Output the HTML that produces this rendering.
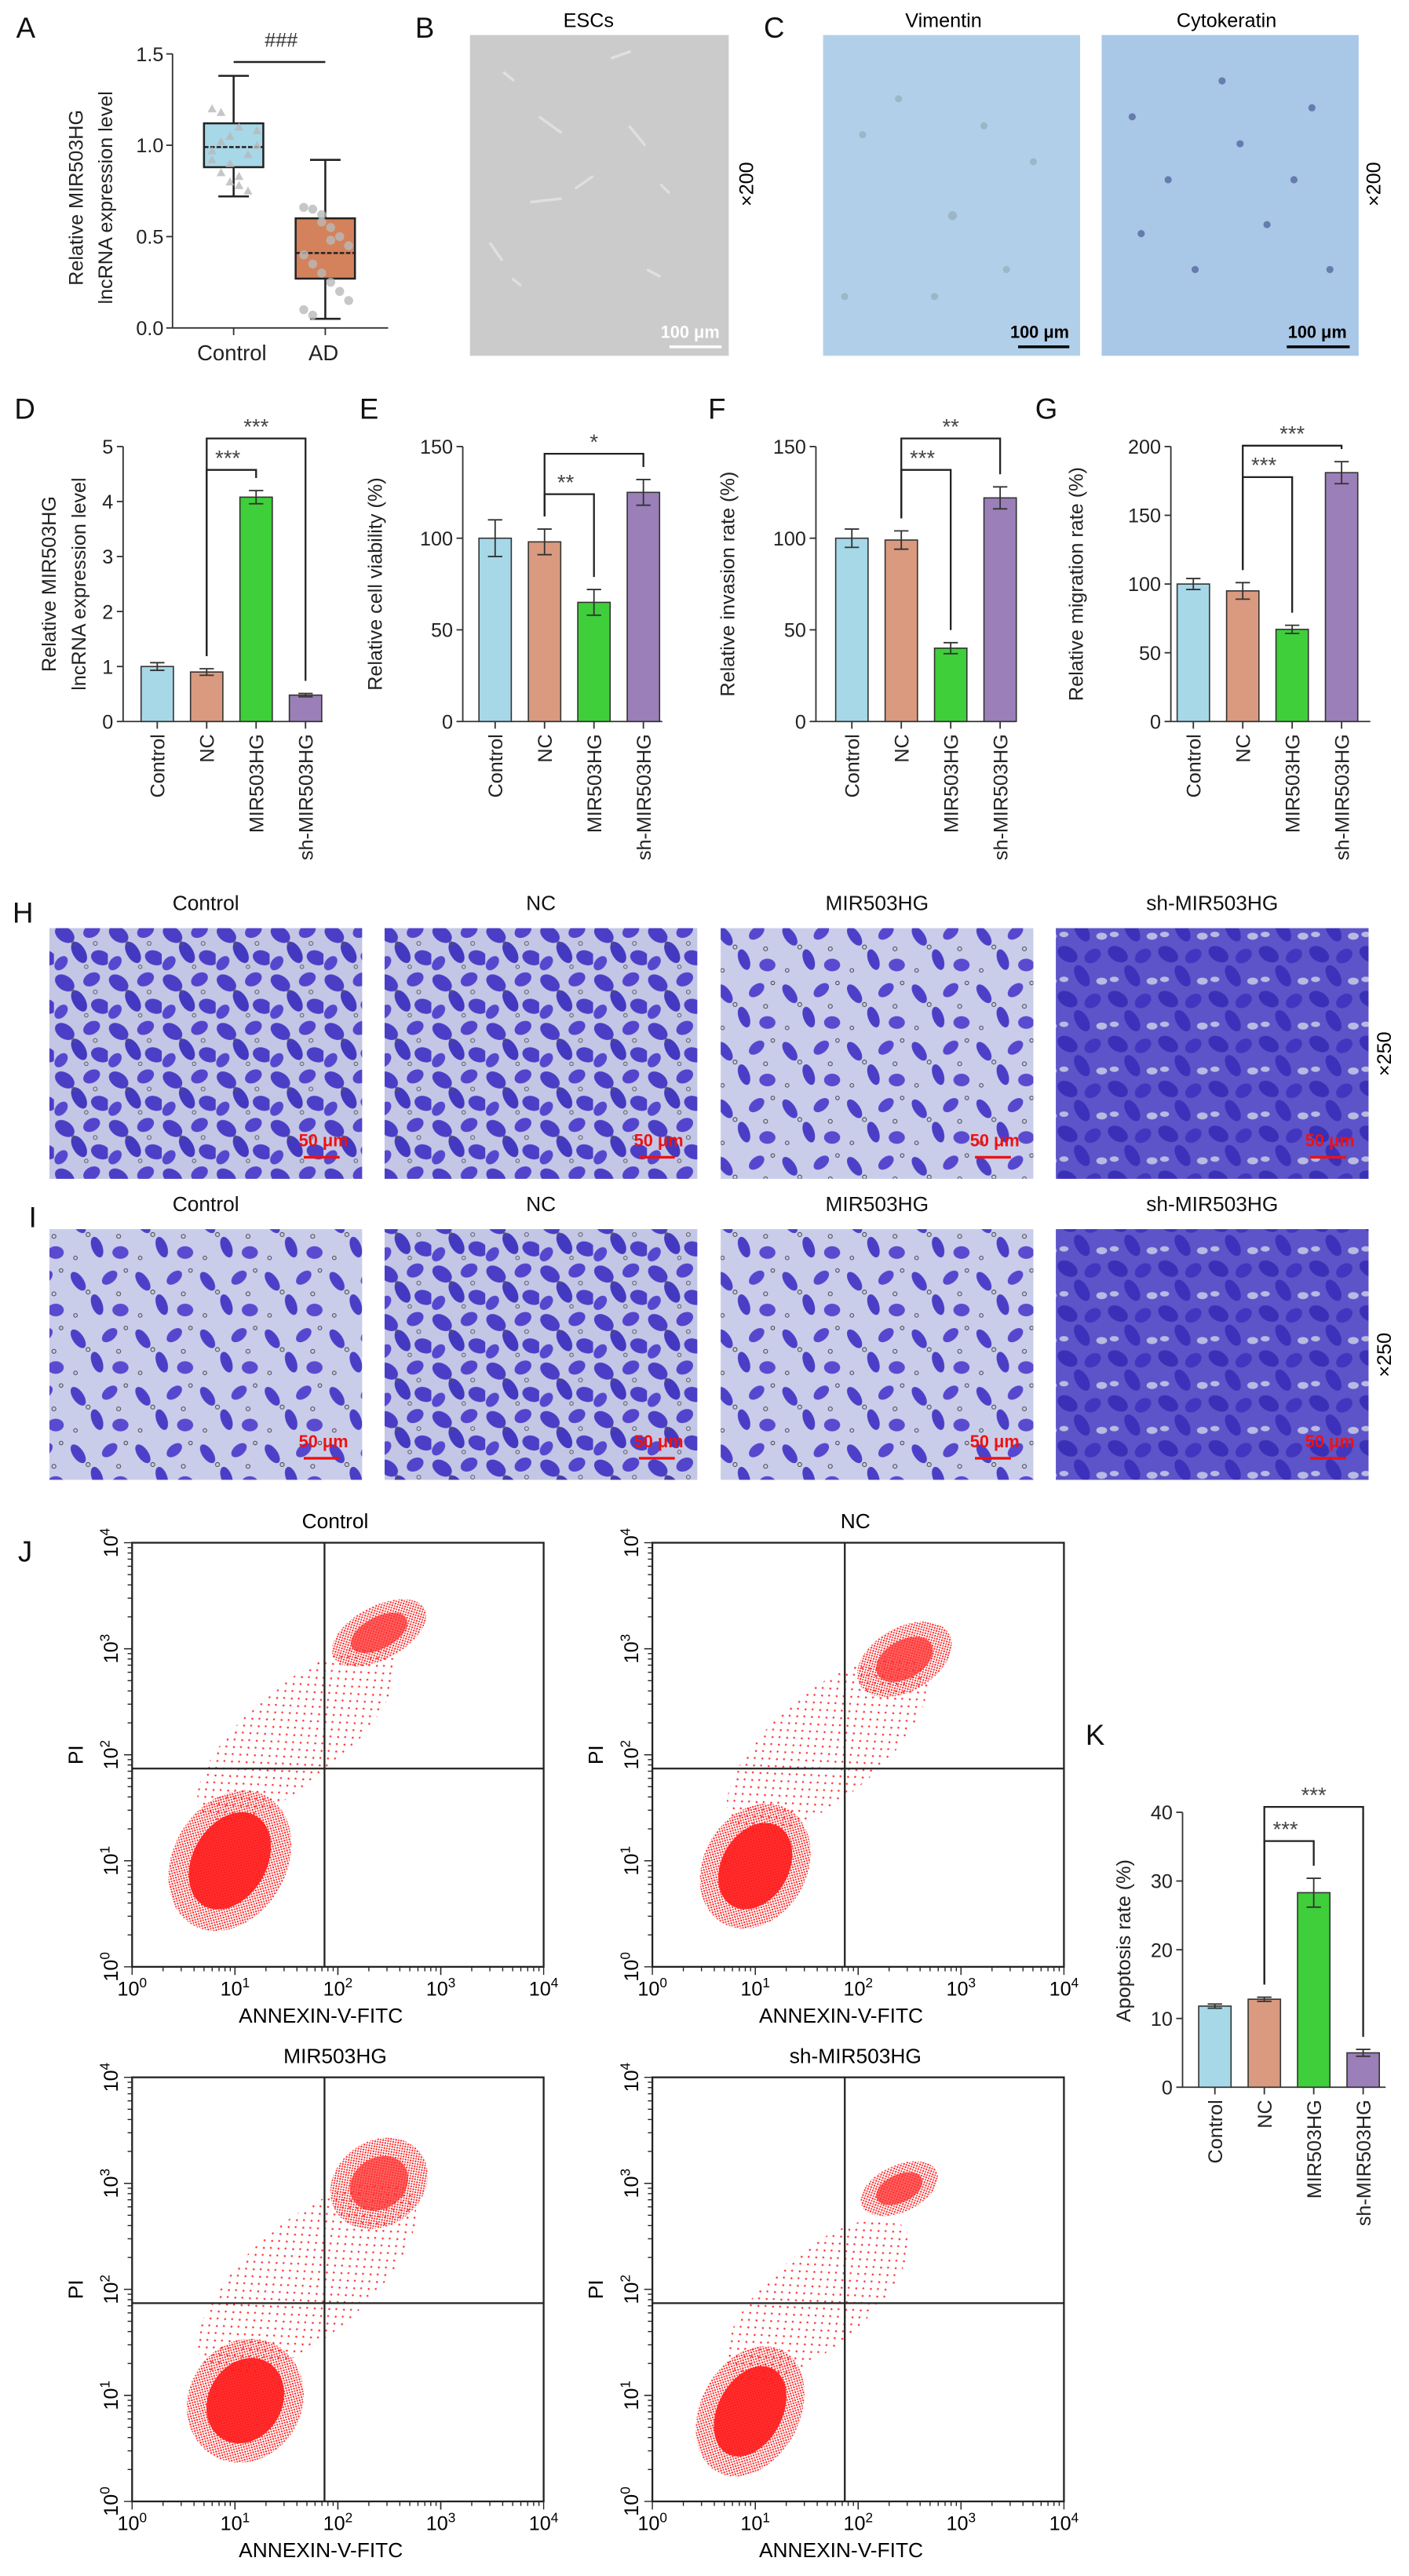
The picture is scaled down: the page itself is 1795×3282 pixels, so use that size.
<!DOCTYPE html>
<html><head><meta charset="utf-8"><style>
html,body{margin:0;padding:0;background:#fff}
svg{display:block;font-family:"Liberation Sans",Arial,sans-serif}
</style></head><body>
<svg id="fig" width="1795" height="3282" viewBox="0 0 1568 2867" xmlns="http://www.w3.org/2000/svg">
<defs>
<pattern id="cellsA" width="60" height="54" patternUnits="userSpaceOnUse">
<rect width="60" height="54" fill="#c4c6e6"/>
<ellipse cx="12" cy="14" rx="12" ry="8" transform="rotate(35 12 14)" fill="#4a3ec6"/>
<ellipse cx="42" cy="10" rx="10" ry="7" transform="rotate(-30 42 10)" fill="#5244cc"/>
<ellipse cx="28" cy="34" rx="13" ry="7" transform="rotate(60 28 34)" fill="#4338c0"/>
<ellipse cx="52" cy="40" rx="11" ry="8" transform="rotate(20 52 40)" fill="#4b3fc8"/>
<ellipse cx="8" cy="46" rx="9" ry="6" transform="rotate(-50 8 46)" fill="#5548cf"/>
<circle cx="46" cy="24" r="2.2" fill="none" stroke="#555" stroke-width="0.8"/>
<circle cx="22" cy="24" r="2" fill="none" stroke="#555" stroke-width="0.8"/>
<circle cx="36" cy="50" r="2" fill="none" stroke="#555" stroke-width="0.8"/>
</pattern>
<pattern id="cellsB" width="72" height="64" patternUnits="userSpaceOnUse">
<rect width="72" height="64" fill="#cacdea"/>
<ellipse cx="15" cy="18" rx="12" ry="6" transform="rotate(55 15 18)" fill="#4d40c8"/>
<ellipse cx="50" cy="14" rx="10" ry="6" transform="rotate(-40 50 14)" fill="#5647cf"/>
<ellipse cx="36" cy="44" rx="12" ry="6" transform="rotate(70 36 44)" fill="#4a3ec6"/>
<ellipse cx="62" cy="50" rx="9" ry="7" fill="#5a4ad0"/>
<circle cx="26" cy="30" r="2.2" fill="none" stroke="#444" stroke-width="0.9"/>
<circle cx="60" cy="32" r="2.2" fill="none" stroke="#444" stroke-width="0.9"/>
<circle cx="12" cy="56" r="2" fill="none" stroke="#444" stroke-width="0.9"/>
<circle cx="68" cy="6" r="2" fill="none" stroke="#444" stroke-width="0.9"/>
</pattern>
<pattern id="cellsD" width="56" height="50" patternUnits="userSpaceOnUse">
<rect width="56" height="50" fill="#5c54c8"/>
<ellipse cx="12" cy="12" rx="12" ry="8" transform="rotate(30 12 12)" fill="#3a30b8"/>
<ellipse cx="40" cy="14" rx="10" ry="7" transform="rotate(-35 40 14)" fill="#4236c0"/>
<ellipse cx="28" cy="36" rx="13" ry="7" transform="rotate(60 28 36)" fill="#3b31ba"/>
<ellipse cx="50" cy="42" rx="6" ry="4" fill="#b8bae2"/>
<ellipse cx="8" cy="40" rx="5" ry="3" fill="#b8bae2"/>
</pattern>
<pattern id="dots" width="4" height="4" patternUnits="userSpaceOnUse">
<circle cx="1.2" cy="1.2" r="1.0" fill="#ff1a1a"/><circle cx="3.2" cy="3.2" r="0.9" fill="#ff2a2a"/>
</pattern>
<pattern id="sparse" width="12" height="11" patternUnits="userSpaceOnUse">
<circle cx="3" cy="4" r="1.1" fill="#ff2020"/><circle cx="9" cy="9" r="1.1" fill="#ff2020"/>
</pattern>
</defs>

<g font-size="32" fill="#111">
<text x="18" y="42">A</text>
<text x="462" y="42">B</text>
<text x="850" y="42">C</text>
<text x="16" y="466">D</text>
<text x="400" y="466">E</text>
<text x="788" y="466">F</text>
<text x="1152" y="466">G</text>
<text x="14" y="1027">H</text>
<text x="32" y="1366">I</text>
<text x="20" y="1738">J</text>
<text x="1208" y="1942">K</text>
</g>

<g>
<text x="655" y="30" font-size="22" text-anchor="middle">ESCs</text>
<rect x="523" y="39" width="288" height="357" fill="#cbcbcb"/>
<g stroke="#e2e2e2" stroke-width="3" fill="none" opacity="0.9">
<path d="M600 130 l25 18"/><path d="M640 210 l20 -14"/><path d="M590 225 l35 -4"/><path d="M700 140 l18 22"/><path d="M735 205 l10 10"/><path d="M560 80 l12 10"/><path d="M680 65 l22 -8"/><path d="M545 270 l14 20"/><path d="M720 300 l15 8"/><path d="M570 310 l10 8"/></g>
<text x="768" y="376" font-size="19" fill="#fff" text-anchor="middle" font-weight="bold">100 μm</text>
<line x1="745" y1="386" x2="803" y2="386" stroke="#fff" stroke-width="3"/>
<text transform="translate(838 205) rotate(-90)" font-size="22" text-anchor="middle">×200</text>
</g>

<g>
<text x="1050" y="30" font-size="22" text-anchor="middle">Vimentin</text>
<text x="1365" y="30" font-size="22" text-anchor="middle">Cytokeratin</text>
<rect x="916" y="39" width="286" height="357" fill="#b2cfea"/>
<rect x="1226" y="39" width="286" height="357" fill="#a9c7e7"/>
<g fill="#8ea6b0" opacity="0.6">
<circle cx="960" cy="150" r="4"/><circle cx="1000" cy="110" r="4"/><circle cx="1060" cy="240" r="5"/><circle cx="1120" cy="300" r="4"/><circle cx="1150" cy="180" r="4"/><circle cx="940" cy="330" r="4"/><circle cx="1040" cy="330" r="4"/><circle cx="1095" cy="140" r="4"/></g>
<g fill="#566a9e" opacity="0.8">
<circle cx="1260" cy="130" r="4"/><circle cx="1300" cy="200" r="4"/><circle cx="1380" cy="160" r="4"/><circle cx="1410" cy="250" r="4"/><circle cx="1330" cy="300" r="4"/><circle cx="1460" cy="120" r="4"/><circle cx="1270" cy="260" r="4"/><circle cx="1480" cy="300" r="4"/><circle cx="1360" cy="90" r="4"/><circle cx="1440" cy="200" r="4"/></g>
<text x="1157" y="376" font-size="19" font-weight="bold" text-anchor="middle">100 μm</text>
<line x1="1133" y1="386" x2="1190" y2="386" stroke="#000" stroke-width="3"/>
<text x="1466" y="376" font-size="19" font-weight="bold" text-anchor="middle">100 μm</text>
<line x1="1432" y1="386" x2="1502" y2="386" stroke="#000" stroke-width="3"/>
<text transform="translate(1536 205) rotate(-90)" font-size="22" text-anchor="middle">×200</text>
</g>

<g id="charts"></g>
<g id="micro"></g>
<g id="flow"></g>
</svg>
<script>
const NS='http://www.w3.org/2000/svg';
function mk(parent,tag,attrs,txt){const e=document.createElementNS(NS,tag);for(const k in attrs)e.setAttribute(k,attrs[k]);if(txt!==undefined)e.textContent=txt;parent.appendChild(e);return e;}

const groups=['Control','NC','MIR503HG','sh-MIR503HG'];
const barColors=['#a6d8e8','#d99a80','#3ecf3a','#9b7fb8'];
const dValues=[1.0,0.9,4.08,0.48];
const dErrors=[0.07,0.06,0.12,0.03];
const eValues=[100,98,65,125];
const eErrors=[10,7,7,7];
const fValues=[100,99,40,122];
const fErrors=[5,5,3,6];
const gValues=[100,95,67,181];
const gErrors=[4,6,3,8];
const kValues=[11.8,12.8,28.3,5.0];
const kErrors=[0.3,0.3,2.1,0.5];
const dTicks=[0,1,2,3,4,5];
const eTicks=[0,50,100,150];
const fTicks=[0,50,100,150];
const gTicks=[0,50,100,150,200];
const kTicks=[0,10,20,30,40];
const dSig=['***','***'];
const eSig=['**','*'];
const fSig=['***','**'];
const gSig=['***','***'];
const kSig=['***','***'];
const boxGroups=['Control','AD'];
const boxStats=[[0.72,0.88,0.99,1.12,1.38],[0.05,0.27,0.41,0.60,0.92]];
const boxColors=['#a6d8e8','#d4825c'];
const boxTicks=[0,0.5,1.0,1.5];
const ctrlPoints=[1.2,1.18,1.05,1.1,0.95,1.0,0.92,0.85,0.8,0.78,0.75,1.08,0.97,1.02,0.9,0.83];
const adPoints=[0.66,0.65,0.62,0.55,0.5,0.45,0.4,0.35,0.3,0.25,0.2,0.15,0.1,0.07,0.58,0.48];

const charts=document.getElementById('charts');

function barChart(o){
  const g=mk(charts,'g',{});
  
  
  const y=v=>o.zeroY-(v/o.max)*(o.zeroY-o.topY);
  const xc=i=>o.axisX+o.first+i*55;
  mk(g,'line',{x1:o.axisX,y1:o.topY,x2:o.axisX,y2:o.zeroY,stroke:'#333','stroke-width':1.6});
  mk(g,'line',{x1:o.axisX,y1:o.zeroY,x2:o.axisX+o.len,y2:o.zeroY,stroke:'#333','stroke-width':1.6});
  o.ticks.forEach(t=>{
    mk(g,'line',{x1:o.axisX-7,y1:y(t),x2:o.axisX,y2:y(t),stroke:'#333','stroke-width':1.6});
    const tl=mk(g,'text',{x:o.axisX-11,y:y(t)+8,'font-size':22,'text-anchor':'end',fill:'#222'},String(t));
    
    
  });
  o.values.forEach((v,i)=>{
    const b=mk(g,'rect',{x:xc(i)-18,y:y(v),width:36,height:o.zeroY-y(v),fill:barColors[i],stroke:'#333','stroke-width':1.4});
    
    
    const e=o.errors[i];
    mk(g,'path',{d:`M${xc(i)} ${y(v+e)}V${y(v-e)}M${xc(i)-8} ${y(v+e)}H${xc(i)+8}M${xc(i)-8} ${y(v-e)}H${xc(i)+8}`,stroke:'#333','stroke-width':1.6,fill:'none'});
    mk(g,'line',{x1:xc(i),y1:o.zeroY,x2:xc(i),y2:o.zeroY+8,stroke:'#333','stroke-width':1.6});
    const xl=mk(g,'text',{transform:`translate(${xc(i)+8} ${o.zeroY+14}) rotate(-90)`,'font-size':22,'text-anchor':'end',fill:'#222'},groups[i]);
    
    
  });
  const nc=xc(1), ncTop=y(o.values[1]+o.errors[1])-14;
  [[2,o.b1],[3,o.b2]].forEach((p,k)=>{
    const t=p[0], by=p[1];
    const tTop=y(o.values[t]+o.errors[t])-14;
    mk(g,'path',{d:`M${nc} ${ncTop}V${by}H${xc(t)}V${tTop}`,stroke:'#222','stroke-width':2,fill:'none'});
    const s=mk(g,'text',{x:(nc+xc(t))/2+(k===0?-4:0),y:by-5,'font-size':24,'text-anchor':'middle',fill:'#444'},o.sig[k]);
    
    
  });
  const yt=mk(g,'text',{'font-size':22,'text-anchor':'middle',fill:'#222'});
  
  
  yt.setAttribute('transform',`translate(${o.titleX} ${o.titleY}) rotate(-90)`);
  o.title.forEach((line,i)=>{mk(yt,'tspan',{x:0,dy:i?33:0},line);});
}
barChart({name:'chart-d-expression',axisX:137,first:38,len:222,topY:497,zeroY:803,max:5,ticks:dTicks,values:dValues,errors:dErrors,b1:523,b2:488,sig:dSig,title:['Relative MIR503HG','lncRNA expression level'],titleX:62,titleY:650});
barChart({name:'chart-e-viability',axisX:515,first:36,len:222,topY:497,zeroY:803,max:150,ticks:eTicks,values:eValues,errors:eErrors,b1:550,b2:505,sig:eSig,title:['Relative cell viability (%)'],titleX:425,titleY:650});
barChart({name:'chart-f-invasion',axisX:908,first:40,len:222,topY:497,zeroY:803,max:150,ticks:fTicks,values:fValues,errors:fErrors,b1:523,b2:488,sig:fSig,title:['Relative invasion rate (%)'],titleX:817,titleY:650});
barChart({name:'chart-g-migration',axisX:1303,first:25,len:222,topY:497,zeroY:803,max:200,ticks:gTicks,values:gValues,errors:gErrors,b1:531,b2:496,sig:gSig,title:['Relative migration rate (%)'],titleX:1205,titleY:650});
barChart({name:'chart-k-apoptosis',axisX:1316,first:36,len:226,topY:2017,zeroY:2323,max:40,ticks:kTicks,values:kValues,errors:kErrors,b1:2049,b2:2011,sig:kSig,title:['Apoptosis rate (%)'],titleX:1258,titleY:2160});

(function(){
  const g=mk(charts,'g',{});
  
  
  const ax=192, top=60, zero=365, max=1.5;
  const y=v=>zero-(v/max)*(zero-top);
  const xc=[260,362];
  mk(g,'line',{x1:ax,y1:top,x2:ax,y2:zero,stroke:'#333','stroke-width':1.6});
  mk(g,'line',{x1:ax,y1:zero,x2:432,y2:zero,stroke:'#333','stroke-width':1.6});
  boxTicks.forEach(t=>{
    mk(g,'line',{x1:ax-7,y1:y(t),x2:ax,y2:y(t),stroke:'#333','stroke-width':1.6});
    const tl=mk(g,'text',{x:ax-10,y:y(t)+8,'font-size':22,'text-anchor':'end',fill:'#222'},t.toFixed(1));
    
    
  });
  boxStats.forEach((s,i)=>{
    const c=xc[i];
    mk(g,'path',{d:`M${c-17} ${y(s[0])}H${c+17}M${c} ${y(s[0])}V${y(s[1])}M${c} ${y(s[3])}V${y(s[4])}M${c-17} ${y(s[4])}H${c+17}`,stroke:'#222','stroke-width':2.2,fill:'none'});
    const b=mk(g,'rect',{x:c-33,y:y(s[3]),width:66,height:y(s[1])-y(s[3]),fill:boxColors[i],stroke:'#222','stroke-width':2.2});
    
    
    mk(g,'line',{x1:c-33,y1:y(s[2]),x2:c+33,y2:y(s[2]),stroke:'#222','stroke-width':2.2,'stroke-dasharray':'5 2'});
    mk(g,'line',{x1:c,y1:zero,x2:c,y2:zero+8,stroke:'#333','stroke-width':1.6});
    const xl=mk(g,'text',{x:c-2,y:zero+36,'font-size':24,'text-anchor':'middle',fill:'#222'},boxGroups[i]);
    
    
  });
  ctrlPoints.forEach((v,i)=>{
    const px=xc[0]-24+(i%6)*10;
    const p=mk(g,'path',{d:`M${px} ${y(v)-5}l5 9h-10z`,fill:'#b9b9b9',opacity:0.8});
    
    
  });
  adPoints.forEach((v,i)=>{
    const p=mk(g,'circle',{cx:xc[1]-24+(i%6)*10,cy:y(v),r:5,fill:'#b9b9b9',opacity:0.8});
    
    
  });
  mk(g,'line',{x1:260,y1:69,x2:362,y2:69,stroke:'#222','stroke-width':2.2});
  const h=mk(g,'text',{x:313,y:52,'font-size':22,'text-anchor':'middle',fill:'#333'},'###');
  
  
  const yt=mk(g,'text',{'font-size':22,'text-anchor':'middle',fill:'#222',transform:'translate(92 220) rotate(-90)'});
  
  
  mk(yt,'tspan',{x:0,dy:0},'Relative MIR503HG');
  mk(yt,'tspan',{x:0,dy:33},'lncRNA expression level');
})();

(function(){
  const m=document.getElementById('micro');
  const xs=[55,428,802,1175];
  const pats=[['cellsA','cellsA','cellsB','cellsD'],['cellsB','cellsA','cellsB','cellsD']];
  [[1033,'h'],[1368,'i']].forEach((row,r)=>{
    groups.forEach((gname,i)=>{
      const t=mk(m,'text',{x:xs[i]+174,y:row[0]-20,'font-size':23,'text-anchor':'middle',fill:'#111'},gname);
      
      
      const im=mk(m,'rect',{x:xs[i],y:row[0],width:348,height:279,fill:`url(#${pats[r][i]})`});
      
      
      mk(m,'text',{x:xs[i]+305,y:row[0]+243,'font-size':19,'font-weight':'bold','text-anchor':'middle',fill:'#ee1111'},'50 μm');
      mk(m,'line',{x1:xs[i]+283,y1:row[0]+255,x2:xs[i]+323,y2:row[0]+255,stroke:'#ee1111','stroke-width':3});
    });
    const mg=mk(m,'text',{transform:`translate(1548 ${row[0]+140}) rotate(-90)`,'font-size':22,'text-anchor':'middle'},'×250');
    
    
  });
})();

const flowTitles=['Control','NC','MIR503HG','sh-MIR503HG'];
// clusters: [log10 x, log10 y, radius x (decades), radius y (decades), angle deg]
const liveCluster=[[0.95,1.0,0.55,0.7,30],[1.0,0.95,0.5,0.62,30],[1.1,0.95,0.55,0.6,30],[0.95,0.85,0.48,0.65,28]];
const lateCluster=[[2.4,3.15,0.5,0.25,-28],[2.45,2.9,0.5,0.3,-30],[2.4,3.0,0.5,0.4,-35],[2.4,2.95,0.4,0.22,-25]];
const bandCluster=[[1.6,2.2,1.2,0.45,-40],[1.7,2.1,1.2,0.5,-40],[1.7,2.1,1.3,0.55,-40],[1.6,1.9,1.1,0.45,-40]];
const gateLog=1.87;
(function(){
  const f=document.getElementById('flow');
  const origins=[[147,1717],[726,1717],[147,2312],[726,2312]];
  const W=458,H=472;
  origins.forEach((o,i)=>{
    const g=mk(f,'g',{});
    
    
    const X=l=>o[0]+l/4*W, Y=l=>o[1]+H-l/4*H;
    const ttl=mk(g,'text',{x:o[0]+226,y:o[1]-16,'font-size':23,'text-anchor':'middle'},flowTitles[i]);
    
    
    const cl=[[bandCluster[i],'url(#sparse)',0.9],[liveCluster[i],'url(#dots)',1],[lateCluster[i],'url(#dots)',1]];
    cl.forEach(c=>{
      const d=c[0];
      const e=mk(g,'ellipse',{cx:X(d[0]),cy:Y(d[1]),rx:d[2]/4*W,ry:d[3]/4*H,fill:c[1],opacity:c[2],transform:`rotate(${d[4]} ${X(d[0])} ${Y(d[1])})`});
      
      
    });
    const core=liveCluster[i];
    mk(g,'ellipse',{cx:X(core[0]),cy:Y(core[1]),rx:core[2]/4*W*0.65,ry:core[3]/4*H*0.7,fill:'#ff1a1a',opacity:0.9,transform:`rotate(${core[4]} ${X(core[0])} ${Y(core[1])})`});
    const lc=lateCluster[i];
    mk(g,'ellipse',{cx:X(lc[0]),cy:Y(lc[1]),rx:lc[2]/4*W*0.6,ry:lc[3]/4*H*0.6,fill:'#ff3030',opacity:0.75,transform:`rotate(${lc[4]} ${X(lc[0])} ${Y(lc[1])})`});
    mk(g,'rect',{x:o[0],y:o[1],width:W,height:H,fill:'none',stroke:'#222','stroke-width':2});
    mk(g,'line',{x1:X(gateLog),y1:o[1],x2:X(gateLog),y2:o[1]+H,stroke:'#222','stroke-width':2});
    mk(g,'line',{x1:o[0],y1:Y(gateLog),x2:o[0]+W,y2:Y(gateLog),stroke:'#222','stroke-width':2});
    for(let dcd=0;dcd<4;dcd++){for(let k=1;k<=10;k++){const l=dcd+Math.log10(k);const len=(k===1||k===10)?9:5;
      mk(g,'line',{x1:X(l),y1:o[1]+H,x2:X(l),y2:o[1]+H+len,stroke:'#222','stroke-width':1.2});
      mk(g,'line',{x1:o[0],y1:Y(l),x2:o[0]-len,y2:Y(l),stroke:'#222','stroke-width':1.2});}}
    for(let k=0;k<=4;k++){
      const tx=mk(g,'text',{x:X(k),y:o[1]+H+32,'font-size':22,'text-anchor':'middle'});
      
      
      mk(tx,'tspan',{},'10');mk(tx,'tspan',{dy:-9,'font-size':15},String(k));
      const ty=mk(g,'text',{transform:`translate(${o[0]-16} ${Y(k)}) rotate(-90)`,'font-size':22,'text-anchor':'middle'});
      
      
      mk(ty,'tspan',{},'10');mk(ty,'tspan',{dy:-9,'font-size':15},String(k));
    }
    const xt=mk(g,'text',{x:o[0]+210,y:o[1]+H+62,'font-size':23,'text-anchor':'middle'},'ANNEXIN-V-FITC');
    
    
    const yt=mk(g,'text',{transform:`translate(${o[0]-55} ${Y(2)}) rotate(-90)`,'font-size':23,'text-anchor':'middle'},'PI');
    
    
  });
})();
</script>
</body></html>
